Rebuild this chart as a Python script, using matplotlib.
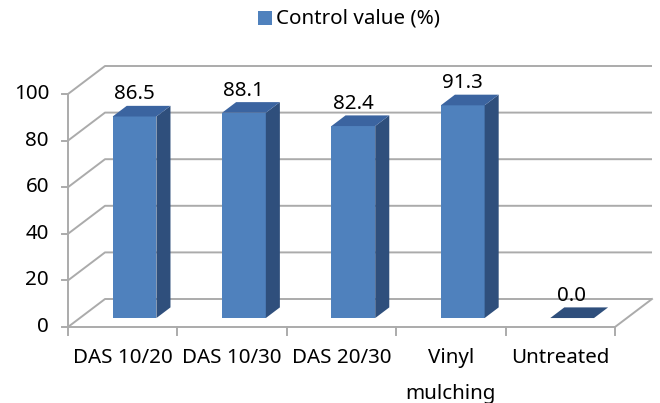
import matplotlib
matplotlib.use("Agg")
import matplotlib.pyplot as plt
from matplotlib.patches import Polygon, Rectangle

categories = ["DAS 10/20", "DAS 10/30", "DAS 20/30", "Vinyl\nmulching", "Untreated"]
values = [86.5, 88.1, 82.4, 91.3, 0.0]
yticks = [0, 20, 40, 60, 80, 100]
series_name = "Control value (%)"

plt.rcParams['font.family'] = ['Noto Sans', 'DejaVu Sans']
FS = 14.8

W, H = 660, 403
fig = plt.figure(figsize=(W / 100, H / 100), dpi=100)
ax = fig.add_axes([0, 0, 1, 1])
ax.set_axis_off()

# pixel geometry of the pseudo-3D frame
x0_px, x1_px, y0_px = 68, 615, 327
px_per_cat = (x1_px - x0_px) / len(categories)
px_per_val = 2.33
ax.set_xlim(-0.5 - x0_px / px_per_cat, -0.5 + (W - x0_px) / px_per_cat)
ax.set_ylim(-(H - y0_px) / px_per_val, y0_px / px_per_val)

DX = 37 / px_per_cat     # depth vector in data units
DY = 28 / px_per_val
n = len(categories)
xl, xr = -0.5, n - 0.5
grid_c = '#ABABAB'
lw = 1.4

# walls / gridlines
for v in yticks:
    ax.plot([xl, xl + DX, xr + DX], [v, v + DY, v + DY], color=grid_c, lw=lw,
            solid_capstyle='butt', zorder=1)
# floor edges
ax.plot([xl, xr, xr + DX], [0, 0, DY], color=grid_c, lw=lw, zorder=1)
# left axis
ax.plot([xl, xl], [0, yticks[-1]], color=grid_c, lw=lw, zorder=1)
for v in yticks:
    ax.plot([xl - 6 / px_per_cat, xl], [v, v], color=grid_c, lw=lw, zorder=1)
    ax.text(xl - 19 / px_per_cat, v, f"{v}", ha='right', va='center',
            fontsize=FS, color='#000000')
# category ticks
for i in range(n + 1):
    ax.plot([xl + i, xl + i], [0, -8 / px_per_val], color=grid_c, lw=lw, zorder=1)

# bars
f1, f2 = 0.32, 0.70
bw = 0.4
front_c, side_c, top_c = '#4F81BD', '#2F4F7C', '#3B64A0'
for i, v in enumerate(values):
    xa = i - bw / 2 + f1 * DX
    xb = i + bw / 2 + f1 * DX
    yb = f1 * DY
    ddx = (f2 - f1) * DX
    ddy = (f2 - f1) * DY
    if v > 0:
        ax.add_patch(Polygon([(xa, yb), (xb, yb), (xb, yb + v), (xa, yb + v)],
                             closed=True, facecolor=front_c, edgecolor='none', zorder=3))
        ax.add_patch(Polygon([(xb, yb), (xb + ddx, yb + ddy), (xb + ddx, yb + v + ddy), (xb, yb + v)],
                             closed=True, facecolor=side_c, edgecolor='none', zorder=3))
    ax.add_patch(Polygon([(xa, yb + v), (xb, yb + v), (xb + ddx, yb + v + ddy), (xa + ddx, yb + v + ddy)],
                         closed=True, facecolor=top_c if v > 0 else side_c,
                         edgecolor='none', zorder=3))
    ax.text(i + 0.105, v + 13.4, f"{v:.1f}", ha='center', va='center',
            fontsize=FS, color='#000000', zorder=4)

# category labels
for i, c in enumerate(categories):
    ax.text(i, -(348 - y0_px) / px_per_val, c, ha='center', va='top',
            fontsize=FS, color='#000000', linespacing=2.05)

# legend
ax.add_patch(Rectangle((-0.5 + (258 - x0_px) / px_per_cat, (y0_px - 25) / px_per_val),
                       14 / px_per_cat, 14 / px_per_val, facecolor=front_c,
                       edgecolor='none', zorder=4))
ax.text(-0.5 + (276 - x0_px) / px_per_cat, (y0_px - 18.5) / px_per_val, series_name,
        ha='left', va='center', fontsize=FS, color='#000000')

fig.savefig("out.png", dpi=100)
